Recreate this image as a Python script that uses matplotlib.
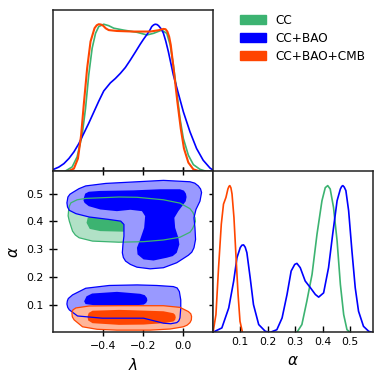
import numpy as np
import matplotlib.pyplot as plt
from matplotlib.patches import Patch

# colours (getdist-like)
c_cc, c_bao, c_cmb = '#3cb371', '#0000ff', '#ff4500'
l_cc, l_bao, l_cmb = '#b1e1c6', '#9999ff', '#ffb599'
labels = ['CC', 'CC+BAO', 'CC+BAO+CMB']

# 1D marginal of lambda (normalised to peak = 1)
lam_cc = [-0.586, -0.553, -0.528, -0.503, -0.486, -0.470, -0.453, -0.436, -0.420, -0.395, -0.370,
          -0.345, -0.296, -0.229, -0.179, -0.146, -0.105, -0.080, -0.063, -0.047, -0.030, -0.014,
          0.003, 0.028, 0.053, 0.086, 0.111]
p_lam_cc = [0.0, 0.027, 0.096, 0.244, 0.426, 0.654, 0.836, 0.938, 0.984, 1.0, 0.99,
            0.973, 0.96, 0.945, 0.927, 0.938, 0.96, 0.938, 0.859, 0.722, 0.54, 0.358,
            0.221, 0.107, 0.043, 0.011, 0.0]
lam_bao = [-0.647, -0.620, -0.594, -0.569, -0.544, -0.520, -0.495, -0.470, -0.445, -0.420, -0.395,
           -0.362, -0.337, -0.312, -0.287, -0.262, -0.237, -0.213, -0.196, -0.179, -0.165, -0.155,
           -0.146, -0.138, -0.129, -0.121, -0.109, -0.097, -0.085, -0.072, -0.047, -0.022, 0.003,
           0.036, 0.069, 0.102, 0.136, 0.152]
p_lam_bao = [0.01, 0.026, 0.05, 0.085, 0.13, 0.185, 0.255, 0.325, 0.40, 0.475, 0.545,
             0.60, 0.63, 0.665, 0.705, 0.756, 0.81, 0.863, 0.898, 0.93, 0.958, 0.984,
             0.995, 1.0, 0.998, 0.99, 0.97, 0.94, 0.885, 0.813, 0.654, 0.528, 0.403,
             0.267, 0.153, 0.073, 0.02, 0.005]
lam_cmb = [-0.569, -0.544, -0.524, -0.508, -0.495, -0.478, -0.461, -0.441, -0.430, -0.420, -0.409,
           -0.398, -0.385, -0.370, -0.329, -0.246, -0.163, -0.121, -0.097, -0.086, -0.077, -0.068,
           -0.060, -0.044, -0.027, -0.010, 0.006, 0.028, 0.053, 0.078]
p_lam_cmb = [0.0, 0.016, 0.084, 0.244, 0.449, 0.699, 0.882, 0.973, 0.993, 1.0, 0.998,
             0.99, 0.972, 0.96, 0.954, 0.95, 0.95, 0.959, 0.968, 0.966, 0.95, 0.915,
             0.859, 0.677, 0.472, 0.289, 0.153, 0.057, 0.011, 0.0]

# 1D marginal of alpha
al_cc = [0.306, 0.324, 0.342, 0.361, 0.379, 0.397, 0.409, 0.418, 0.427, 0.439, 0.452, 0.464,
         0.476, 0.488, 0.500]
p_al_cc = [0.0, 0.053, 0.212, 0.395, 0.669, 0.897, 0.986, 1.0, 0.977, 0.852, 0.624, 0.326,
           0.121, 0.018, 0.0]
al_bao = [0.0, 0.033, 0.058, 0.076, 0.088, 0.100, 0.106, 0.112, 0.118, 0.124, 0.136, 0.148, 0.167,
          0.191, 0.209, 0.233, 0.252, 0.270, 0.285, 0.298, 0.306, 0.318, 0.336, 0.355, 0.373,
          0.385, 0.403, 0.421, 0.436, 0.452, 0.464, 0.469, 0.473, 0.478, 0.484, 0.494, 0.506,
          0.518, 0.530, 0.548, 0.567, 0.579]
p_al_bao = [0.0, 0.03, 0.166, 0.349, 0.509, 0.578, 0.594, 0.596, 0.58, 0.543, 0.372, 0.189, 0.053,
            0.007, 0.0, 0.018, 0.098, 0.258, 0.418, 0.463, 0.47, 0.441, 0.35, 0.304, 0.258,
            0.24, 0.269, 0.441, 0.669, 0.897, 0.977, 0.995, 1.0, 0.99, 0.966, 0.829, 0.555,
            0.304, 0.144, 0.041, 0.007, 0.0]
al_cmb = [0.002, 0.0115, 0.021, 0.031, 0.039, 0.048, 0.055, 0.059, 0.062, 0.066, 0.070, 0.077,
          0.084, 0.092, 0.099, 0.108]
p_al_cmb = [0.011, 0.121, 0.44, 0.737, 0.874, 0.92, 0.977, 0.995, 1.0, 0.985, 0.943, 0.783,
            0.532, 0.258, 0.075, 0.0]

# 2D contours (lambda, alpha), outer = 95%, inner = 68%
cc95_lam = [-0.571, -0.567, -0.559, -0.528, -0.485, -0.319, -0.228, -0.0965, -0.014, 0.036, 0.051,
            0.061, 0.063, 0.058, 0.049, 0.036, -0.014, -0.0965, -0.196, -0.319, -0.451, -0.518,
            -0.537, -0.551, -0.567, -0.573]
cc95_al = [0.437, 0.455, 0.467, 0.478, 0.483, 0.488, 0.487, 0.478, 0.466, 0.446, 0.432,
           0.413, 0.400, 0.389, 0.374, 0.361, 0.343, 0.333, 0.327, 0.325, 0.329, 0.341,
           0.351, 0.365, 0.401, 0.420]
cc68_lam = [-0.481, -0.475, -0.445, -0.329, -0.163, -0.030, -0.014, -0.047, -0.163, -0.294, -0.412, -0.465]
cc68_al = [0.395, 0.413, 0.425, 0.431, 0.431, 0.419, 0.395, 0.371, 0.363, 0.363, 0.365, 0.373]

bao95a_lam = [-0.579, -0.574, -0.564, -0.551, -0.519, -0.485, -0.385, -0.228, -0.0965, 0.036, 0.060,
              0.0776, 0.089, 0.094, 0.086, 0.066, 0.056, 0.061, 0.064, 0.056, 0.045, 0.028, -0.030,
              -0.0965, -0.163, -0.229, -0.262, -0.286, -0.297, -0.302, -0.299, -0.294, -0.294,
              -0.310, -0.368, -0.468, -0.534, -0.567, -0.576]
bao95a_al = [0.467, 0.488, 0.498, 0.504, 0.518, 0.528, 0.537, 0.543, 0.548, 0.543, 0.538,
             0.528, 0.517, 0.504, 0.473, 0.443, 0.413, 0.377, 0.335, 0.305, 0.289, 0.278, 0.251,
             0.233, 0.229, 0.235, 0.245, 0.257, 0.270, 0.287, 0.317, 0.347, 0.389,
             0.401, 0.407, 0.416, 0.428, 0.440, 0.452]
bao68a_lam = [-0.495, -0.488, -0.470, -0.412, -0.246, -0.113, -0.014, 0.006, 0.016, 0.019, 0.015,
              -0.022, -0.042, -0.038, -0.022, -0.017, -0.030, -0.050, -0.080, -0.146, -0.196, -0.226,
              -0.229, -0.213, -0.193, -0.188, -0.204, -0.262, -0.329, -0.412, -0.470, -0.491, -0.496]
bao68a_al = [0.483, 0.500, 0.507, 0.510, 0.512, 0.516, 0.516, 0.511, 0.500, 0.488, 0.473,
             0.437, 0.413, 0.377, 0.341, 0.317, 0.287, 0.275, 0.269, 0.259, 0.263, 0.281,
             0.305, 0.335, 0.377, 0.419, 0.437, 0.442, 0.437, 0.443, 0.455, 0.467, 0.475]
bao95b_lam = [-0.579, -0.577, -0.572, -0.551, -0.485, -0.368, -0.228, -0.130, -0.047, -0.028, -0.017,
              -0.010, -0.010, -0.014, -0.020, -0.030, -0.060, -0.0965, -0.146, -0.196, -0.329,
              -0.402, -0.526, -0.567, -0.575]
bao95b_al = [0.102, 0.113, 0.122, 0.135, 0.159, 0.169, 0.171, 0.169, 0.165, 0.160, 0.147,
             0.117, 0.087, 0.052, 0.041, 0.035, 0.031, 0.033, 0.042, 0.051, 0.051,
             0.051, 0.059, 0.081, 0.090]
bao68b_lam = [-0.493, -0.481, -0.453, -0.329, -0.213, -0.190, -0.179, -0.177, -0.183, -0.195, -0.229,
              -0.329, -0.445, -0.486]
bao68b_al = [0.112, 0.130, 0.140, 0.146, 0.139, 0.134, 0.124, 0.115, 0.106, 0.100, 0.098,
             0.096, 0.098, 0.102]

cmb95_lam = [-0.554, -0.549, -0.534, -0.468, -0.319, -0.0965, -0.014, 0.028, 0.040, 0.044, 0.043,
             0.036, 0.022, 0.003, -0.063, -0.163, -0.329, -0.428, -0.501, -0.543, -0.552]
cmb95_al = [0.069, 0.081, 0.088, 0.095, 0.096, 0.096, 0.090, 0.075, 0.067, 0.057, 0.045,
            0.035, 0.026, 0.020, 0.012, 0.008, 0.008, 0.011, 0.020, 0.045, 0.056]
cmb68_lam = [-0.476, -0.470, -0.451, -0.319, -0.262, -0.0965, -0.047, -0.038, -0.035, -0.038, -0.047,
             -0.0965, -0.196, -0.319, -0.451, -0.473]
cmb68_al = [0.057, 0.070, 0.078, 0.081, 0.080, 0.076, 0.069, 0.063, 0.054, 0.045, 0.039,
            0.033, 0.028, 0.027, 0.033, 0.043]

lam_ticks = [-0.4, -0.2, 0.0]
al_ticks = [0.1, 0.2, 0.3, 0.4, 0.5]
lam_lim = (-0.65, 0.15)
al_lim = (0.0, 0.582)

fig = plt.figure(figsize=(3.82, 3.82), dpi=100)
w, h = 0.419, 0.4225
ax_top = fig.add_axes([0.138, 0.5525, w, h])
ax_2d = fig.add_axes([0.138, 0.13, w, h])
ax_r = fig.add_axes([0.138 + w, 0.13, w, h])

for ax in (ax_top, ax_2d, ax_r):
    for s in ax.spines.values():
        s.set_linewidth(1.1)
        s.set_color('#222222')

# top: lambda marginal
ax_top.plot(lam_cc, p_lam_cc, color=c_cc, lw=1.2, solid_joinstyle='round')
ax_top.plot(lam_bao, p_lam_bao, color=c_bao, lw=1.2, solid_joinstyle='round')
ax_top.plot(lam_cmb, p_lam_cmb, color=c_cmb, lw=1.5, solid_joinstyle='round')
ax_top.set_xlim(lam_lim)
ax_top.set_ylim(0, 1.1)
ax_top.set_xticks(lam_ticks)
ax_top.set_xticklabels([])
ax_top.set_yticks([])
ax_top.tick_params(axis='x', direction='inout', length=6, width=1)

# 2D panel: fills then outlines
ax_2d.fill(cc95_lam, cc95_al, color=l_cc, lw=0, zorder=1)
ax_2d.fill(cc68_lam, cc68_al, color=c_cc, lw=0, zorder=1.1)
for lx, ly in ((bao95a_lam, bao95a_al), (bao95b_lam, bao95b_al)):
    ax_2d.fill(lx, ly, color=l_bao, lw=0, zorder=2)
for lx, ly in ((bao68a_lam, bao68a_al), (bao68b_lam, bao68b_al)):
    ax_2d.fill(lx, ly, color=c_bao, lw=0, zorder=2.1)
ax_2d.fill(cmb95_lam, cmb95_al, color=l_cmb, lw=0, zorder=3)
ax_2d.fill(cmb68_lam, cmb68_al, color=c_cmb, lw=0, zorder=3.1)
ax_2d.fill(cc95_lam, cc95_al, fill=False, edgecolor=c_cc, lw=0.9, joinstyle='round', zorder=4)
for lx, ly in ((bao95a_lam, bao95a_al), (bao95b_lam, bao95b_al)):
    ax_2d.fill(lx, ly, fill=False, edgecolor=c_bao, lw=0.9, joinstyle='round', zorder=4)
ax_2d.fill(cmb95_lam, cmb95_al, fill=False, edgecolor=c_cmb, lw=0.9, joinstyle='round', zorder=4)
ax_2d.set_xlim(lam_lim)
ax_2d.set_ylim(al_lim)
ax_2d.set_xticks(lam_ticks)
ax_2d.set_yticks(al_ticks)
ax_2d.tick_params(direction='inout', length=6, width=1, labelsize=7.8, top=True, right=True)
ax_2d.set_xlabel(r'$\lambda$', fontsize=11)
ax_2d.set_ylabel(r'$\alpha$', fontsize=11)

# right: alpha marginal
ax_r.plot(al_cc, p_al_cc, color=c_cc, lw=1.2, solid_joinstyle='round')
ax_r.plot(al_bao, p_al_bao, color=c_bao, lw=1.2, solid_joinstyle='round')
ax_r.plot(al_cmb, p_al_cmb, color=c_cmb, lw=1.2, solid_joinstyle='round')
ax_r.set_xlim(al_lim)
ax_r.set_ylim(0, 1.1)
ax_r.set_xticks(al_ticks)
ax_r.set_yticks([])
ax_r.tick_params(axis='x', direction='in', length=4, width=1, labelsize=7.8)
ax_r.set_xlabel(r'$\alpha$', fontsize=11)

handles = [Patch(color=c) for c in (c_cc, c_bao, c_cmb)]
fig.legend(handles, labels, loc='upper left', bbox_to_anchor=(0.6, 0.992), frameon=False,
           fontsize=8.7, handlelength=2.15, handleheight=0.75, labelspacing=0.4, handletextpad=0.8)

fig.savefig('out.png', dpi=100)
